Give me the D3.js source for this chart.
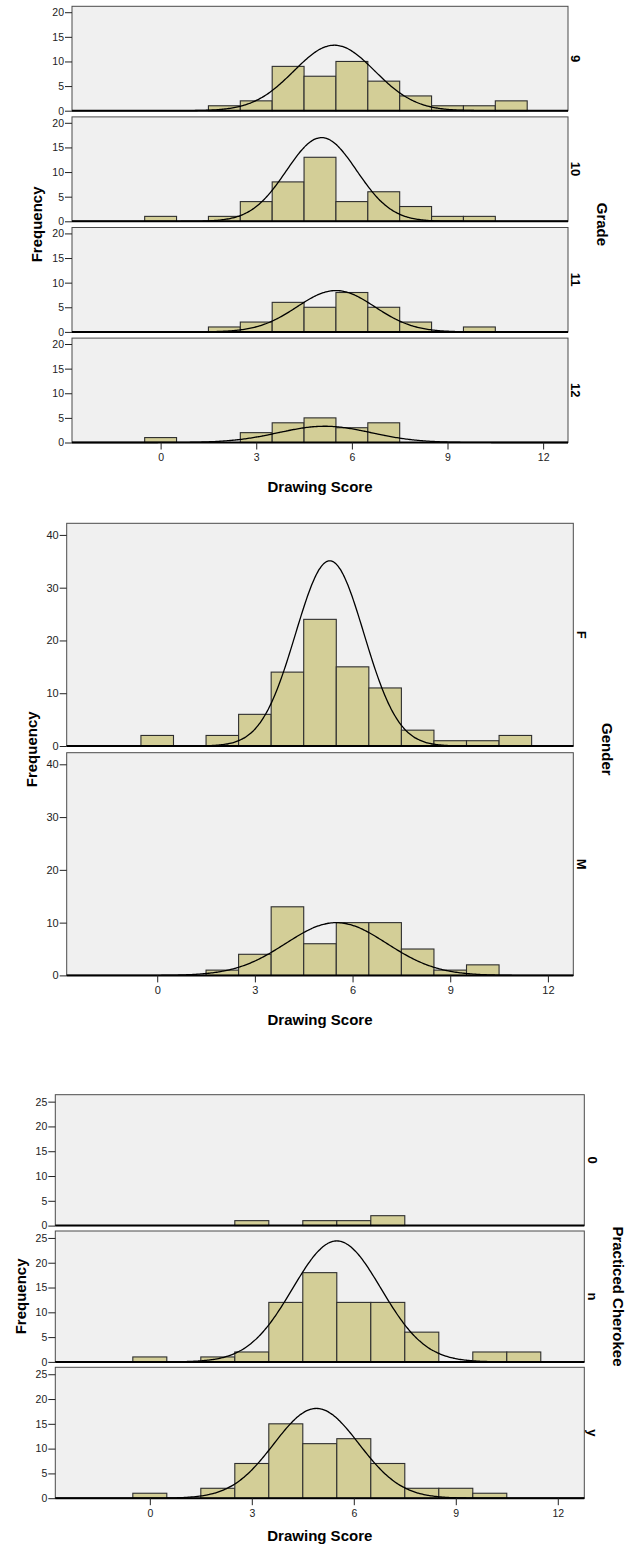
<!DOCTYPE html>
<html>
<head>
<meta charset="utf-8">
<script src="https://cdnjs.cloudflare.com/ajax/libs/d3/7.8.5/d3.min.js"></script>
<style>
  body { margin: 0; background: #fff; }
  text { font-family: "Liberation Sans", Arial, sans-serif; }
</style>
</head>
<body>
<script>
// bar centres on the Drawing Score axis (bins are 1 point wide)
var scores = [0, 1, 2, 3, 4, 5, 6, 7, 8, 9, 10, 11];
var xTicks = [0, 3, 6, 9, 12];

// Grade
var gradeLabels = ["9", "10", "11", "12"];
var grade9  = [0, 0, 1, 2, 9, 7, 10, 6, 3, 1, 1, 2];
var grade10 = [1, 0, 1, 4, 8, 13, 4, 6, 3, 1, 1, 0];
var grade11 = [0, 0, 1, 2, 6, 5, 8, 5, 2, 0, 1, 0];
var grade12 = [1, 0, 0, 2, 4, 5, 3, 4, 0, 0, 0, 0];
// normal curve per panel: [mean, sd, peak]
var gradeCurves = [[5.45, 1.27, 13.3], [5.05, 1.1, 17.0], [5.5, 1.22, 8.4], [5.15, 1.45, 3.3]];
var gradeTicks = [0, 5, 10, 15, 20];

// Gender
var genderLabels = ["F", "M"];
var genderF = [2, 0, 2, 6, 14, 24, 15, 11, 3, 1, 1, 2];
var genderM = [0, 0, 1, 4, 13, 6, 10, 10, 5, 1, 2, 0];
var genderCurves = [[5.3, 1.05, 35.1], [5.5, 1.55, 10.0]];
var genderTicks = [0, 10, 20, 30, 40];

// Practiced Cherokee
var cherokeeLabels = ["0", "n", "y"];
var cherokee0 = [0, 0, 0, 1, 0, 1, 1, 2, 0, 0, 0, 0];
var cherokeeN = [1, 0, 1, 2, 12, 18, 12, 12, 6, 0, 2, 2];
var cherokeeY = [1, 0, 2, 7, 15, 11, 12, 7, 2, 2, 1, 0];
var cherokeeCurves = [null, [5.5, 1.3, 24.4], [4.9, 1.25, 18.1]];
var cherokeeTicks = [0, 5, 10, 15, 20, 25];

var svg = d3.select("body").append("svg")
    .attr("width", 626).attr("height", 1548);

function drawChart(cfg) {
  var g = svg.append("g");
  var x = d3.scaleLinear().domain([-2.78, 12.78]).range([cfg.left, cfg.right]);
  var bottom = 0;

  cfg.series.forEach(function(counts, i) {
    var top = cfg.top + i * (cfg.panelH + cfg.gap);
    bottom = top + cfg.panelH;
    var y = d3.scaleLinear().domain([0, cfg.yMax]).range([bottom, top]);

    g.append("rect")
      .attr("x", cfg.left).attr("y", top)
      .attr("width", cfg.right - cfg.left).attr("height", cfg.panelH)
      .attr("fill", "#f0f0f0").attr("stroke", "#4a4a4a").attr("stroke-width", 1);

    var bins = scores.map(function(s, j) { return { s: s, n: counts[j] }; })
      .filter(function(d) { return d.n > 0; });

    g.selectAll(null).data(bins).enter().append("rect")
      .attr("x", function(d) { return x(d.s - 0.5); })
      .attr("width", function(d) { return x(d.s + 0.5) - x(d.s - 0.5); })
      .attr("y", function(d) { return y(d.n); })
      .attr("height", function(d) { return y(0) - y(d.n); })
      .attr("fill", "#d3ce97").attr("stroke", "#2e2e2e").attr("stroke-width", 1.1);

    var c = cfg.curves[i];
    if (c) {
      var pts = d3.range(-2.78, 12.79, 0.04);
      var line = d3.line()
        .x(function(v) { return x(v); })
        .y(function(v) { return y(c[2] * Math.exp(-Math.pow(v - c[0], 2) / (2 * c[1] * c[1]))); })
        .curve(d3.curveBasis);
      g.append("path").attr("d", line(pts))
        .attr("fill", "none").attr("stroke", "#000").attr("stroke-width", 1.3);
    }

    // baseline
    g.append("line")
      .attr("x1", cfg.left).attr("x2", cfg.right)
      .attr("y1", bottom).attr("y2", bottom)
      .attr("stroke", "#000").attr("stroke-width", 2);

    var ya = g.append("g").attr("transform", "translate(" + cfg.left + ",0)")
      .call(d3.axisLeft(y).tickValues(cfg.yTicks).tickSize(7).tickPadding(1));
    ya.select(".domain").remove();
    ya.selectAll("line").attr("stroke", "#222");
    ya.selectAll("text").attr("font-size", cfg.tickFont).attr("fill", "#222")
      .attr("font-family", "Liberation Sans, Arial, sans-serif");

    // panel label on the right
    var lx = cfg.right + 8, ly = top + cfg.panelH / 2;
    g.append("text")
      .attr("transform", "translate(" + lx + "," + ly + ") rotate(90)")
      .attr("text-anchor", "middle").attr("dy", "0.35em")
      .attr("font-size", 13).attr("font-weight", "bold")
      .text(cfg.labels[i]);
  });

  var xa = g.append("g").attr("transform", "translate(0," + bottom + ")")
    .call(d3.axisBottom(x).tickValues(xTicks).tickSize(7).tickPadding(4));
  xa.select(".domain").remove();
  xa.selectAll("line").attr("stroke", "#222");
  xa.selectAll("text").attr("font-size", cfg.tickFont).attr("fill", "#222")
    .attr("font-family", "Liberation Sans, Arial, sans-serif");

  var midY = (cfg.top + bottom) / 2;
  g.append("text")
    .attr("x", (cfg.left + cfg.right) / 2).attr("y", bottom + cfg.titleDy)
    .attr("text-anchor", "middle")
    .attr("font-size", 15).attr("font-weight", "bold")
    .text("Drawing Score");

  g.append("text")
    .attr("transform", "translate(" + (cfg.left - 35) + "," + midY + ") rotate(-90)")
    .attr("text-anchor", "middle").attr("dy", "0.35em")
    .attr("font-size", 15).attr("font-weight", "bold")
    .text("Frequency");

  g.append("text")
    .attr("transform", "translate(" + (cfg.right + 34) + "," + midY + ") rotate(90)")
    .attr("text-anchor", "middle").attr("dy", "0.35em")
    .attr("font-size", 15).attr("font-weight", "bold")
    .text(cfg.title);
}

drawChart({
  top: 6.3, panelH: 104.4, gap: 6.2, left: 72, right: 568,
  yMax: 21.2, yTicks: gradeTicks, tickFont: 10.5, titleDy: 49,
  series: [grade9, grade10, grade11, grade12], curves: gradeCurves,
  labels: gradeLabels, title: "Grade"
});

drawChart({
  top: 523.3, panelH: 222.7, gap: 6.7, left: 66.7, right: 573.3,
  yMax: 42.2, yTicks: genderTicks, tickFont: 11, titleDy: 50,
  series: [genderF, genderM], curves: genderCurves,
  labels: genderLabels, title: "Gender"
});

drawChart({
  top: 1094.7, panelH: 130.9, gap: 5.4, left: 55.3, right: 584.3,
  yMax: 26.4, yTicks: cherokeeTicks, tickFont: 10.5, titleDy: 43,
  series: [cherokee0, cherokeeN, cherokeeY], curves: cherokeeCurves,
  labels: cherokeeLabels, title: "Practiced Cherokee"
});
</script>
</body>
</html>
